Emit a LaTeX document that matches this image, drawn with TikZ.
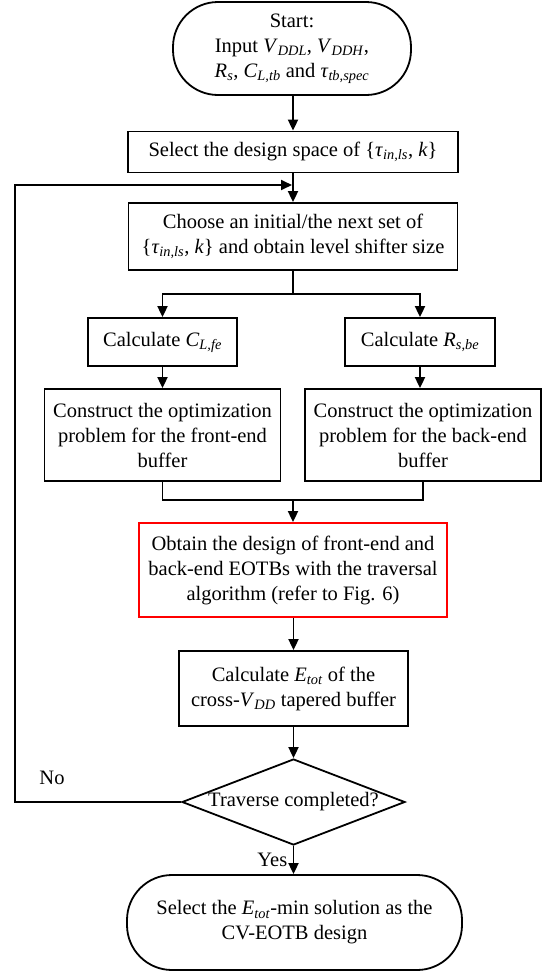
\documentclass[tikz,border=0pt]{standalone}
\usepackage{fontspec}
\setmainfont{Liberation Serif}
\usetikzlibrary{shapes.geometric,arrows.meta}
\newcommand{\symsub}[2]{\textit{#1}\textsubscript{\textit{#2}}}
\begin{document}
\begin{tikzpicture}[
        x=1pt, y=-1pt,
        box/.style={draw, line width=1.8pt, align=center, inner sep=0pt,
          font=\fontsize{20.5}{25}\selectfont},
        term/.style={box, rounded corners=45pt},
        flow/.style={line width=1.8pt, -{Triangle[length=11pt,width=10pt]}},
        link/.style={line width=1.8pt}
      ]
      \useasboundingbox (0,0) rectangle (544,972);
      \node[term, minimum width=238pt, minimum height=93pt] (start) at (292,48.5)
        {Start:\\ Input \symsub{V}{DDL}, \symsub{V}{DDH},\\ \symsub{R}{s}, \symsub{C}{L,tb} and \symsub{τ}{tb,spec}};
      \node[box, minimum width=330pt, minimum height=41pt] (space) at (293,152)
        {Select the design space of \{\symsub{τ}{in,ls}, \textit{k}\}};
      \node[box, minimum width=329pt, minimum height=67pt] (choose) at (293,236.5)
        {Choose an initial/the next set of\\ \{\symsub{τ}{in,ls}, \textit{k}\} and obtain level shifter size};
      \node[box, minimum width=149pt, minimum height=48pt] (clfe) at (162.5,342)
        {Calculate \symsub{C}{L,fe}};
      \node[box, minimum width=150pt, minimum height=48pt] (rsbe) at (420,342)
        {Calculate \symsub{R}{s,be}};
      \node[box, minimum width=236pt, minimum height=92pt] (confe) at (162.5,435)
        {Construct the optimization\\ problem for the front-end\\ buffer};
      \node[box, minimum width=236pt, minimum height=92pt] (conbe) at (423,435)
        {Construct the optimization\\ problem for the back-end\\ buffer};
      \node[box, draw=red, minimum width=308pt, minimum height=94pt] (obtain) at (293,570)
        {Obtain the design of front-end and\\ back-end EOTBs with the traversal\\ algorithm (refer to Fig. 6)};
      \node[box, minimum width=229pt, minimum height=75pt] (etot) at (293.5,688.5)
        {Calculate \symsub{E}{tot} of the\\ cross-\symsub{V}{DD} tapered buffer};
      \node[box, diamond, aspect=2.6, minimum width=223pt, minimum height=86pt] (trav) at (293.5,802)
        {Traverse completed?};
      \node[term, minimum width=335pt, minimum height=95pt] (final) at (294.5,922.5)
        {Select the \symsub{E}{tot}-min solution as the\\ CV-EOTB design};
      \coordinate (split) at (293,294);
      \coordinate (merge) at (293,500);
      \coordinate (back) at (15,185);
      % main flow
      \draw[flow] (start.south -| space.north) -- (space.north);
      \draw[flow] (space.south) -- (choose.north);
      \draw[link] (choose.south) -- (split);
      \draw[flow] (split) -| (clfe.north);
      \draw[flow] (split) -| (rsbe.north);
      \draw[flow] (clfe.south) -- (clfe.south |- confe.north);
      \draw[flow] (rsbe.south) -- (rsbe.south |- conbe.north);
      \draw[link] (confe.south) |- (merge);
      \draw[link] (conbe.south) |- (merge);
      \draw[flow] (merge) -- (merge |- obtain.north);
      \draw[flow] (obtain.south -| etot.north) -- (etot.north);
      \draw[flow] (etot.south) -- (trav.north);
      \draw[flow] (trav.south) -- node[left, font=\fontsize{20.5}{25}\selectfont, xshift=-2pt] (yes) {Yes} (trav.south |- final.north);
      % loop back
      \draw[flow] (trav.west) -| (back) -- ([xshift=-1pt]back -| choose.north);
      \node[font=\fontsize{20.5}{25}\selectfont] (no) at (52,778) {No};
\end{tikzpicture}
\end{document}
